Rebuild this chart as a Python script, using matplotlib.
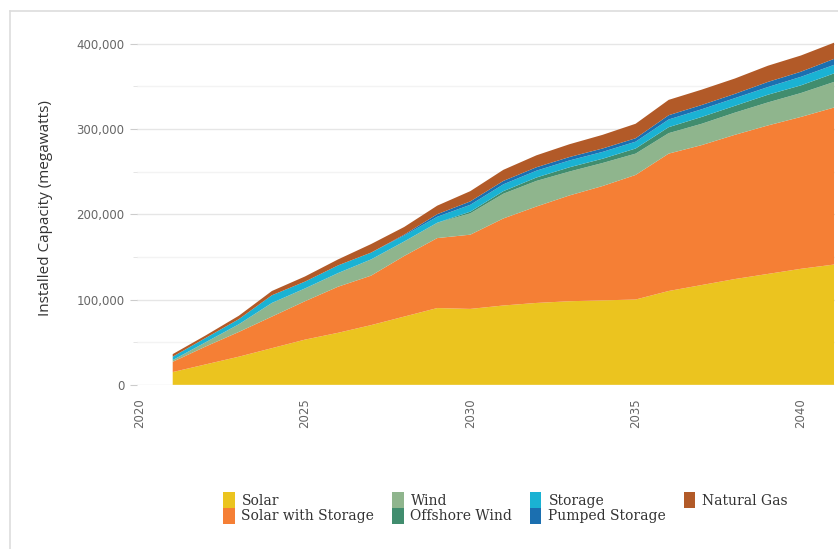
import numpy as np
import matplotlib
matplotlib.use("Agg")
import matplotlib.pyplot as plt
from matplotlib.lines import Line2D
from matplotlib.ticker import FuncFormatter, MultipleLocator

# Dane (MW)
years = list(range(2021, 2042))
solar = [15, 24, 33, 43, 53, 61, 70, 80, 90, 89, 93, 96, 98, 99, 100, 110, 117, 124, 130, 136, 141]
solar_storage = [12, 21, 29, 37, 45, 54, 58, 71, 82, 87, 102, 113, 124, 134, 146, 161, 164, 169, 174, 178, 184]
wind = [2, 5, 9, 16, 15, 16, 19, 17, 18, 25, 29, 30, 28, 27, 25, 24, 25, 26, 27, 28, 30]
offshore_wind = [0, 0, 0, 0, 0, 0, 0, 0, 0, 2, 3, 4, 5, 5, 6, 7, 8, 8, 9, 9, 10]
storage = [4, 5, 6, 9, 8, 9, 8, 7, 7, 8, 8, 8, 8, 8, 8, 9, 9, 9, 9, 10, 10]
pumped_storage = [0, 0, 0, 0, 0, 0, 0, 1, 3, 4, 4, 4, 4, 4, 4, 5, 5, 5, 6, 6, 7]
natural_gas = [3, 3, 4, 5, 6, 7, 10, 9, 10, 12, 13, 14, 15, 16, 17, 18, 18, 18, 19, 19, 19]

labels = ["Solar", "Solar with Storage", "Wind", "Offshore Wind",
          "Storage", "Pumped Storage", "Natural Gas"]
colors = ["#EBC41F", "#F57F35", "#8FB58D", "#418D6E", "#1AB2D3", "#1B6FB0", "#B25A28"]

series = [solar, solar_storage, wind, offshore_wind, storage, pumped_storage, natural_gas]
series = [np.array(s) * 1000 for s in series]

fig = plt.figure(figsize=(8.38, 5.49), dpi=100)
ax = fig.add_axes([137 / 838, 0.299, 698 / 838, 0.645])

ax.stackplot(years, *series, labels=labels, colors=colors, linewidth=0)

ax.set_xlim(2019.92, 2041.03)
ax.set_ylim(0, 415000)
ax.set_xticks([2020, 2025, 2030, 2035, 2040])
ax.yaxis.set_major_locator(MultipleLocator(100000))
ax.yaxis.set_minor_locator(MultipleLocator(50000))
ax.yaxis.set_major_formatter(FuncFormatter(lambda v, p: f"{int(v):,}"))

ax.grid(axis="y", which="major", color="#E6E6E6", linewidth=1)
ax.grid(axis="y", which="minor", color="#F3F3F3", linewidth=1)
ax.set_axisbelow(True)
for s in ax.spines.values():
    s.set_visible(False)

ax.tick_params(axis="y", which="major", length=5, color="#CCCCCC", labelsize=8.5,
               labelcolor="#666666", pad=4)
ax.tick_params(axis="y", which="minor", length=3, color="#E0E0E0")
ax.tick_params(axis="x", length=0, labelsize=8.5, labelcolor="#666666", pad=10,
               labelrotation=90)
for lbl in ax.get_xticklabels():
    lbl.set_x(lbl.get_position()[0])
    lbl.set_horizontalalignment("center")

ax.set_ylabel("Installed Capacity (megawatts)", fontsize=11, color="#333333",
              family="Open Sans", labelpad=17)

leg = fig.legend(loc="upper center", bbox_to_anchor=(0.603, 0.126), ncol=4,
                 frameon=False, prop={"family": "DejaVu Serif", "size": 10},
                 handlelength=0.85, handleheight=1.35, handletextpad=0.5,
                 columnspacing=1.25, labelspacing=0.0)
for t in leg.get_texts():
    t.set_color("#333333")

# ramka wokół obrazka
fig.add_artist(Line2D([10 / 838, 10 / 838], [0, 1 - 11 / 549], color="#DDDDDD", lw=1.2))
fig.add_artist(Line2D([10 / 838, 1], [1 - 11 / 549, 1 - 11 / 549], color="#DDDDDD", lw=1.2))

fig.savefig("out.png", dpi=100)
